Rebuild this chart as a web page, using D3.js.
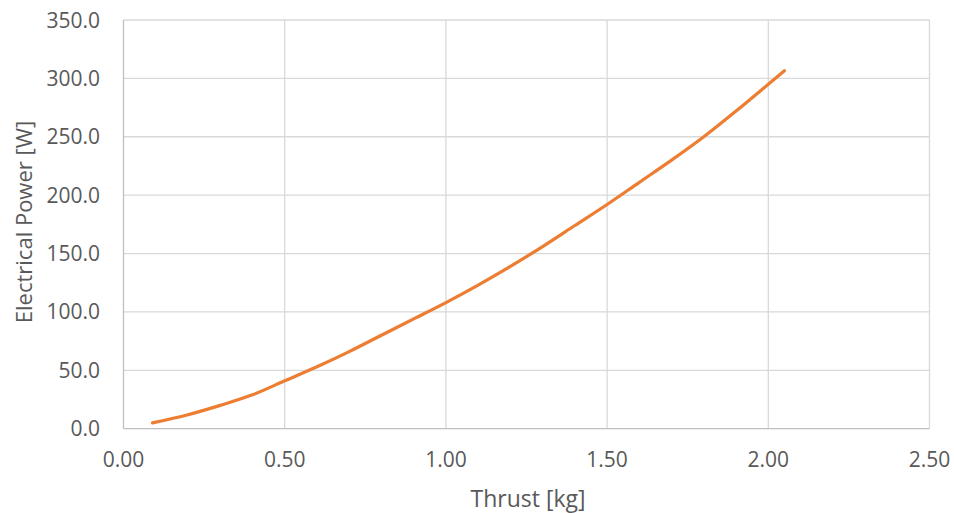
<!DOCTYPE html>
<html>
<head>
<meta charset="utf-8">
<script src="https://cdn.jsdelivr.net/npm/d3@7"></script>
<style>
  body { margin: 0; background: #fff; }
  text { font-family: "Open Sans", sans-serif; fill: #595959; }
</style>
</head>
<body>
<svg id="chart" width="954" height="513"></svg>
<script>
// thrust [kg] vs electrical power [W]
var thrust = [0.09, 0.20, 0.30, 0.40, 0.50, 0.60, 0.70, 0.80, 0.90, 1.00, 1.10,
              1.20, 1.30, 1.40, 1.50, 1.60, 1.70, 1.80, 1.90, 2.00, 2.05];
var power  = [5, 12, 20, 29, 41, 53, 66, 80, 94, 108, 123,
              139, 156, 174, 192, 211, 230, 250, 272, 295, 306.5];
var xTicks = [0, 0.5, 1.0, 1.5, 2.0, 2.5];
var yTicks = [0, 50, 100, 150, 200, 250, 300, 350];

var svg = d3.select("#chart");
var plotL = 123.5, plotR = 929.5, plotT = 20, plotB = 428.7;

var x = d3.scaleLinear().domain([0, 2.5]).range([plotL, plotR]);
var y = d3.scaleLinear().domain([0, 350]).range([plotB, plotT]);

// grid
svg.append("g").selectAll("line")
  .data(xTicks.slice(1))
  .enter().append("line")
  .attr("x1", d => x(d)).attr("x2", d => x(d))
  .attr("y1", plotT).attr("y2", plotB)
  .attr("stroke", "#d9d9d9").attr("stroke-width", 1.3);

svg.append("g").selectAll("line")
  .data(yTicks.slice(1))
  .enter().append("line")
  .attr("x1", plotL).attr("x2", plotR)
  .attr("y1", d => y(d)).attr("y2", d => y(d))
  .attr("stroke", "#d9d9d9").attr("stroke-width", 1.3);

// axis lines
svg.append("line")
  .attr("x1", plotL).attr("x2", plotL).attr("y1", plotT).attr("y2", plotB)
  .attr("stroke", "#bfbfbf").attr("stroke-width", 1.3);
svg.append("line")
  .attr("x1", plotL).attr("x2", plotR).attr("y1", plotB).attr("y2", plotB)
  .attr("stroke", "#bfbfbf").attr("stroke-width", 1.3);

// tick labels
svg.append("g").selectAll("text")
  .data(yTicks)
  .enter().append("text")
  .attr("x", 100).attr("y", d => y(d))
  .attr("dy", "0.36em")
  .attr("text-anchor", "end")
  .style("font-size", "21px")
  .text(d => d3.format(".1f")(d));

svg.append("g").selectAll("text")
  .data(xTicks)
  .enter().append("text")
  .attr("x", d => x(d)).attr("y", 467)
  .attr("text-anchor", "middle")
  .style("font-size", "21px")
  .text(d => d3.format(".2f")(d));

// axis titles
svg.append("text")
  .attr("x", 528).attr("y", 507)
  .attr("text-anchor", "middle")
  .style("font-size", "23px")
  .text("Thrust [kg]");

svg.append("text")
  .attr("transform", "translate(32,222) rotate(-90)")
  .attr("text-anchor", "middle")
  .style("font-size", "22px")
  .text("Electrical Power [W]");

// series
var pts = thrust.map((t, i) => [t, power[i]]);
var line = d3.line()
  .x(d => x(d[0])).y(d => y(d[1]))
  .curve(d3.curveMonotoneX);

svg.append("path")
  .datum(pts)
  .attr("d", line)
  .attr("fill", "none")
  .attr("stroke", "#ed7d31")
  .attr("stroke-width", 3.2)
  .attr("stroke-linecap", "round");
</script>
</body>
</html>
